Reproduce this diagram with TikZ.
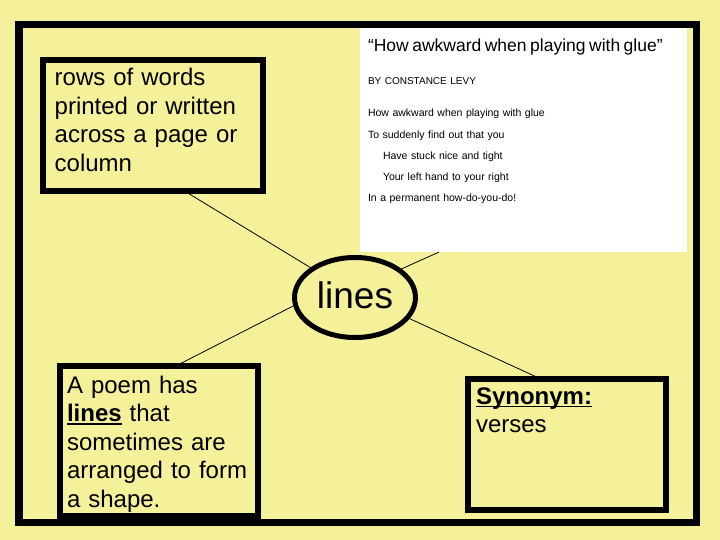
\documentclass[tikz,border=0pt]{standalone}
\usepackage{fontspec}
\setmainfont{Liberation Sans}
\usetikzlibrary{shapes}
\definecolor{padyellow}{RGB}{245,241,154}

% underline sitting just under the baseline
\newcommand{\ulword}[1]{\setbox0=\hbox{#1}\rlap{\vrule height -1.6pt depth 3.4pt width \wd0}\box0}

\begin{document}
\begin{tikzpicture}[x=1pt, y=-1pt,
    wordbox/.style={draw, line width=6pt, anchor=north west, outer sep=0pt, inner ysep=0pt, align=left, font=\fontsize{24}{28.5}\selectfont},
    hub/.style={draw, ellipse, line width=5pt, inner sep=0pt, outer sep=0pt, minimum width=121pt, minimum height=80pt, text height=27.5pt, text depth=6pt, font=\fontsize{37}{40}\selectfont},
    poem/.style={fill=white, anchor=north west, outer sep=0pt, inner xsep=8pt, inner ysep=0pt, align=left, font=\fontsize{10.5}{21.2}\selectfont},
    spoke/.style={line width=0.8pt}]
  \useasboundingbox (0,0) rectangle (720,540);
  \fill[padyellow] (0,0) rectangle (720,540);
  \draw[line width=7.5pt] (18.75,24.75) rectangle (696.25,522.25);

  % the poem clipping
  \node[poem, text width=311pt, text height=24pt, text depth=200pt] (Poem) at (360,28)
    {{\fontsize{17.5}{21}\selectfont “How awkward when playing with glue”}\\[11.8pt]
     {\fontsize{10}{21.2}\selectfont BY CONSTANCE LEVY}\\[10.8pt]
     How awkward when playing with glue\\
     To suddenly find out that you\\
     \hspace*{15pt}Have stuck nice and tight\\
     \hspace*{15pt}Your left hand to your right\\
     In a permanent how-do-you-do!};

  % the word in the middle and its boxes
  \node[hub] (Lines) at (355,297.5) {lines};
  \node[wordbox, text width=196.6pt, inner xsep=12pt, text height=25.7pt, text depth=105.3pt] (Rows) at (42.7,60.3)
    {rows of words\\printed or written\\across a page or\\column};
  \node[wordbox, text width=184.6pt, inner xsep=6.7pt, text height=26.7pt, text depth=122.5pt] (Shape) at (60.3,366.3)
    {A poem has\\\textbf{\ulword{lines}} that\\sometimes are\\arranged to form\\a shape.};
  \node[wordbox, text width=181.8pt, inner xsep=8pt, text height=25.2pt, text depth=105.5pt] (Synonym) at (468,378.8)
    {\textbf{\ulword{Synonym:}}\\verses};

  \draw[spoke] (Rows.296) -- (Lines.146);
  \draw[spoke] (Poem.233) -- (Lines.32);
  \draw[spoke] (Shape.78) -- (Lines.187);
  \draw[spoke] (Synonym.112) -- (Lines.339);
\end{tikzpicture}
\end{document}
